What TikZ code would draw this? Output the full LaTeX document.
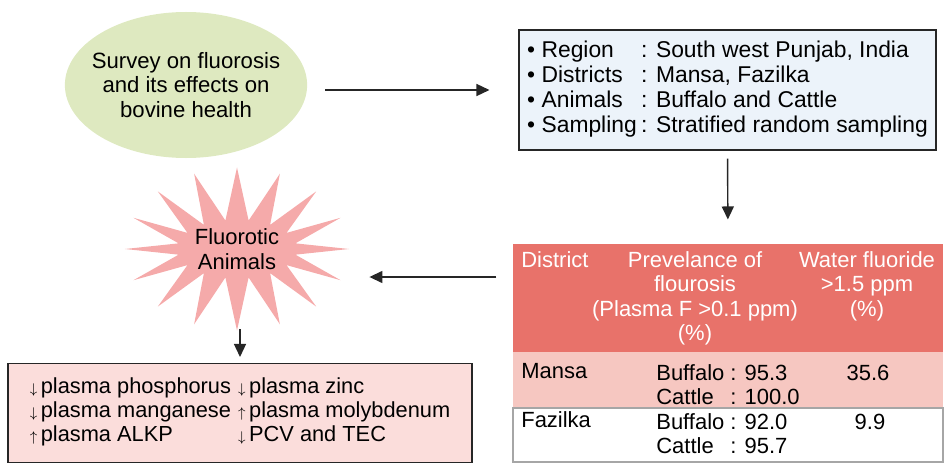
\documentclass[tikz,border=0pt]{standalone}
\usepackage{fontspec}
\setmainfont{Liberation Sans}
\usetikzlibrary{arrows.meta,calc,positioning,shapes.geometric,shapes.symbols}
\definecolor{flgreen}{RGB}{222,233,192}
\definecolor{flblue}{RGB}{236,243,250}
\definecolor{flred}{RGB}{232,114,106}
\definecolor{flrose}{RGB}{246,199,193}
\definecolor{flpink}{RGB}{245,170,170}
\definecolor{flpale}{RGB}{251,221,219}

\begin{document}
\begin{tikzpicture}[x=0.2mm,y=-0.2mm,font=\fontsize{12.5}{14}\selectfont,
      box/.style={draw=black!85,line width=0.6pt,rectangle,inner sep=0pt},
      cell/.style={inner sep=0pt,anchor=base west},
      hcell/.style={inner sep=0pt,anchor=base,text=white},
      a/.style={-{Triangle[length=2.6mm,width=2.4mm]},thick,draw=black!85}]
      \useasboundingbox (0,0) rectangle (944,464);
      \node[ellipse,fill=flgreen,inner xsep=-1.7mm,inner ysep=0pt,
        minimum width=48.4mm,minimum height=29.2mm,align=center,
        font=\fontsize{12.6}{13.8}\selectfont]
        (survey) at (186,85) {Survey on fluorosis\\and its effects on\\bovine health};
      \node[box,fill=flblue,minimum width=83.4mm,minimum height=24mm,
        font=\fontsize{13}{14.2}\selectfont] (info) at (727.5,90)
        {\begin{tabular}{@{}p{22.8mm}@{}l@{}}
          \textbullet\ Region & : South west Punjab, India\\
          \textbullet\ Districts & : Mansa, Fazilka\\
          \textbullet\ Animals & : Buffalo and Cattle\\
          \textbullet\ Sampling & : Stratified random sampling
        \end{tabular}};
      % table
      \node[box,draw=none,fill=flred,minimum width=86mm,minimum height=21.6mm] (hdr) at (728,298) {};
      \node[box,draw=none,fill=flrose,minimum width=86mm,minimum height=11.2mm] (mansa) at (728,380) {};
      \node[box,draw=black!35,fill=white,minimum width=86mm,minimum height=10.8mm] (fazilka) at (728,435) {};
      \node[hcell,anchor=base west] (hdist) at (521,267) {District};
      \node[hcell] (hprev) at (695,267)
        {\begin{tabular}[t]{@{}c@{}}Prevelance of\\flourosis\\(Plasma F >0.1 ppm)\\(\%)\end{tabular}};
      \node[hcell] (hwater) at (867,267)
        {\begin{tabular}[t]{@{}c@{}}Water fluoride\\>1.5 ppm\\(\%)\end{tabular}};
      \node[cell] (mname) at (521,378) {Mansa};
      \node[cell] (mprev) at (656,380)
        {\begin{tabular}[t]{@{}l@{\ }l@{}}Buffalo & : 95.3\\Cattle & : 100.0\end{tabular}};
      \node[cell,anchor=base] (mwater) at (868,380) {35.6};
      \node[cell] (fname) at (521,427) {Fazilka};
      \node[cell] (fprev) at (656,429)
        {\begin{tabular}[t]{@{}l@{\ }l@{}}Buffalo & : 92.0\\Cattle & : 95.7\end{tabular}};
      \node[cell,anchor=base] (fwater) at (870,429) {9.9};
      % star and effects
      \node[starburst,starburst points=16,starburst point height=10.5mm,random starburst=0,
        fill=flpink,minimum width=43.4mm,minimum height=32.6mm,align=center,inner sep=0pt]
        (fluoro) at (237,249) {Fluorotic\\Animals};
      \node[box,fill=flpale,minimum width=92.8mm,minimum height=19.8mm,
        font=\fontsize{12.4}{13.6}\selectfont] (effects) at (240,413)
        {\begin{tabular}{@{}l@{\hspace{1.4mm}}l@{}}
          {\footnotesize$\downarrow$}\,plasma phosphorus & {\footnotesize$\downarrow$}\,plasma zinc\\
          {\footnotesize$\downarrow$}\,plasma manganese & {\footnotesize$\uparrow$}\,plasma molybdenum\\
          {\footnotesize$\uparrow$}\,plasma ALKP & {\footnotesize$\downarrow$}\,PCV and TEC
        \end{tabular}};
      \draw[a] ($(survey.east)+(18,5)$) -- ([xshift=-5.8mm]info.west);
      \draw[a,shorten <=1.6mm,shorten >=4.8mm] (info.south) -- (hdr.north);
      \draw[a] ($(hdr.west)+(-16,-21)$) coordinate (tail) -- ($(tail -| fluoro.east)+(17,0)$);
      \draw[a] ($(effects.north |- fluoro.south)+(0,-3)$) -- ([yshift=1.2mm]effects.north);
    \end{tikzpicture}
\end{document}
